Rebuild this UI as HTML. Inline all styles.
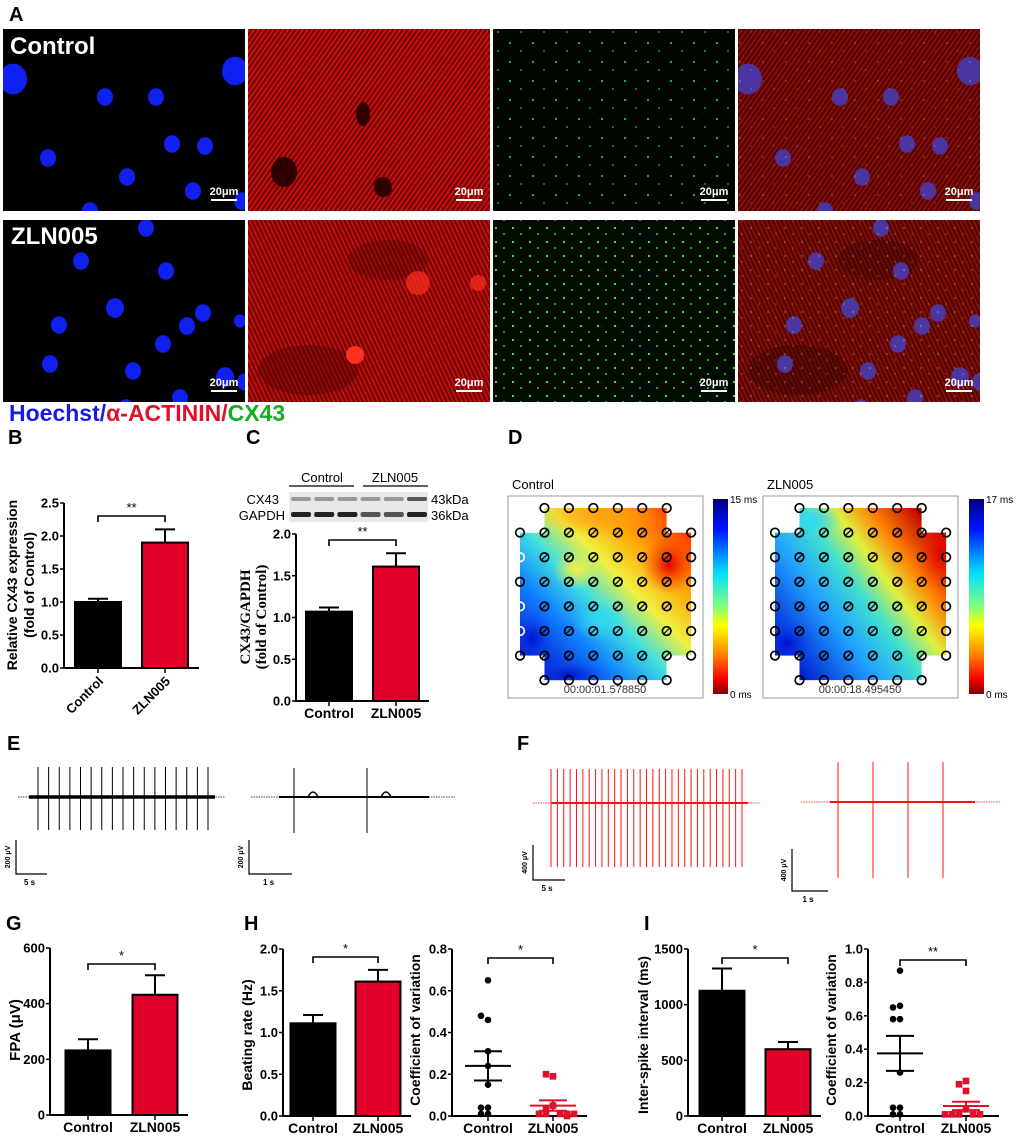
<!DOCTYPE html>
<html><head><meta charset="utf-8"><style>
html,body{margin:0;padding:0;background:#fff;}
svg{display:block;font-family:"Liberation Sans",Arial,sans-serif;}
</style></head><body>
<svg id="fig" width="1020" height="1137" viewBox="0 0 1020 1137" xmlns="http://www.w3.org/2000/svg">
<defs>
<pattern id="redTex" width="4" height="4" patternUnits="userSpaceOnUse" patternTransform="rotate(35)">
<rect width="4" height="4" fill="#5a0606"/><rect width="2" height="4" fill="#d81616"/></pattern>
<pattern id="redTex2" width="4" height="4" patternUnits="userSpaceOnUse" patternTransform="rotate(-25)">
<rect width="4" height="4" fill="#560606"/><rect width="2" height="4" fill="#d41414"/></pattern>
<pattern id="greenDots" width="23" height="19" patternUnits="userSpaceOnUse">
<rect width="23" height="19" fill="#010601"/><circle cx="4" cy="5" r="1" fill="#2fe05a"/><circle cx="15" cy="13" r="0.9" fill="#22c040"/></pattern>
<pattern id="greenDots2" width="17" height="14" patternUnits="userSpaceOnUse">
<rect width="17" height="14" fill="#020c02"/><circle cx="3" cy="4" r="1.1" fill="#3af060"/><circle cx="11" cy="10" r="1" fill="#2ad050"/></pattern>
<linearGradient id="cbar" x1="0" y1="0" x2="0" y2="1">
<stop offset="0" stop-color="#00007f"/><stop offset="0.15" stop-color="#0010ff"/><stop offset="0.38" stop-color="#00e0ff"/><stop offset="0.55" stop-color="#80ff80"/><stop offset="0.65" stop-color="#ffff00"/><stop offset="0.8" stop-color="#ff8000"/><stop offset="0.92" stop-color="#ff0000"/><stop offset="1" stop-color="#800000"/></linearGradient>
<linearGradient id="hm1" gradientUnits="userSpaceOnUse" x1="530" y1="680" x2="690" y2="520">
<stop offset="0" stop-color="#0000c0"/><stop offset="0.28" stop-color="#1080ff"/><stop offset="0.45" stop-color="#40e0e0"/><stop offset="0.6" stop-color="#f0f040"/><stop offset="0.78" stop-color="#ffa000"/><stop offset="1" stop-color="#ff2000"/></linearGradient>
<radialGradient id="hmRed"><stop offset="0" stop-color="#e00000"/><stop offset="1" stop-color="#ff4000" stop-opacity="0"/></radialGradient>
<radialGradient id="hmBlue"><stop offset="0" stop-color="#0010d0"/><stop offset="1" stop-color="#1060ff" stop-opacity="0"/></radialGradient>
<radialGradient id="hmYel"><stop offset="0" stop-color="#f8f040"/><stop offset="1" stop-color="#f8f040" stop-opacity="0"/></radialGradient>
<radialGradient id="hmOr"><stop offset="0" stop-color="#ffa010"/><stop offset="1" stop-color="#ffa010" stop-opacity="0"/></radialGradient>
<radialGradient id="hmCy"><stop offset="0" stop-color="#30d8f0"/><stop offset="1" stop-color="#30d8f0" stop-opacity="0"/></radialGradient>
<linearGradient id="hm2" gradientUnits="userSpaceOnUse" x1="790" y1="660" x2="945" y2="545">
<stop offset="0" stop-color="#0020d0"/><stop offset="0.3" stop-color="#20a0ff"/><stop offset="0.5" stop-color="#40e0d0"/><stop offset="0.65" stop-color="#e0f040"/><stop offset="0.8" stop-color="#ff8000"/><stop offset="1" stop-color="#c00000"/></linearGradient>
</defs>
<g id="root"></g>
</svg>
<script>
// ---------- chart data ----------
var cats = ["Control", "ZLN005"];
var bValues = [1.0, 1.9];
var bErrors = [0.05, 0.2];
var bTicks = [0, 0.5, 1.0, 1.5, 2.0, 2.5];
var cValues = [1.07, 1.61];
var cErrors = [0.05, 0.16];
var cTicks = [0, 0.5, 1.0, 1.5, 2.0];
var gValues = [232, 432];
var gErrors = [40, 70];
var gTicks = [0, 200, 400, 600];
var hValues = [1.11, 1.61];
var hErrors = [0.1, 0.14];
var hTicks = [0, 0.5, 1.0, 1.5, 2.0];
var hCvControl = [0.65, 0.46, 0.48, 0.31, 0.24, 0.15, 0.04, 0.04, 0.01, 0.01];
var hCvZln = [0.19, 0.2, 0.05, 0.03, 0.01, 0.01, 0.01, 0.01, 0.0, 0.01];
var hCvMean = [0.24, 0.05];
var hCvSem = [0.07, 0.025];
var hCvTicks = [0, 0.2, 0.4, 0.6, 0.8];
var iValues = [1125, 600];
var iErrors = [200, 65];
var iTicks = [0, 500, 1000, 1500];
var iCvControl = [0.87, 0.66, 0.65, 0.58, 0.58, 0.26, 0.05, 0.05, 0.01, 0.01];
var iCvZln = [0.21, 0.19, 0.15, 0.04, 0.02, 0.01, 0.01, 0.01, 0.01, 0.01];
var iCvMean = [0.375, 0.06];
var iCvSem = [0.105, 0.025];
var iCvTicks = [0, 0.2, 0.4, 0.6, 0.8, 1.0];
var eSpikeTimes1 = [0,1,2,3,4,5,6,7,8,9,10,11,12,13,14,15,16];
var eSpikeTimes2 = [0, 1];
var fSpikeTimes1 = [0,1,2,3,4,5,6,7,8,9,10,11,12,13,14,15,16,17,18,19,20,21,22,23,24,25,26,27,28,29,30];
var fSpikeTimes2 = [0, 1, 2, 3];

var NS = "http://www.w3.org/2000/svg";
var root = document.getElementById("root");
function el(tag, attrs, parent, txt) {
  var e = document.createElementNS(NS, tag);
  for (var k in attrs) e.setAttribute(k, attrs[k]);
  if (txt !== undefined) e.textContent = txt;
  (parent || root).appendChild(e);
  return e;
}
function grp(name, parent) {
  var g = el("g", {}, parent);
  
  
  return g;
}
function label(txt, x, y, size, parent) {
  var t = el("text", {x: x, y: y, "font-size": size, "font-weight": "bold"}, parent, txt);
  
  
  return t;
}

// ---------- Panel A ----------
var pA = grp("panel-a-micrographs");
label("A", 9, 21, 20, pA);
var cols = [3, 248, 493, 738], rows = [29, 220], W = 242, H = 182;
var nucleiA = [[10,50,14],[232,42,13],[102,68,8],[153,68,8],[169,115,8],[202,117,8],[45,129,8],[124,148,8],[190,162,8],[87,182,8],[239,172,8],[62,204,8]];
var nucleiB = [[143,8,8],[163,51,8],[78,41,8],[112,88,9],[56,105,8],[184,106,8],[200,93,8],[237,101,6],[160,124,8],[47,144,8],[130,151,8],[222,157,9],[123,188,8],[177,178,8],[242,162,8],[193,203,8]];
function nuclei(parent, ox, oy, list, col, op) {
  list.forEach(function(n){ el("ellipse",{cx:ox+n[0],cy:oy+n[1],rx:n[2],ry:n[2]*1.1,fill:col,opacity:op},parent); });
}
rows.forEach(function(ry, ri){
  cols.forEach(function(cx, ci){
    var g = grp("micrograph-" + (ri? "zln005":"control") + "-" + ["hoechst","actinin","cx43","merge"][ci], pA);
    var cp = el("clipPath",{id:"cp"+ri+ci},g); el("rect",{x:cx,y:ry,width:W,height:H},cp);
    var inner = el("g",{"clip-path":"url(#cp"+ri+ci+")"},g);
    var list = ri ? nucleiB : nucleiA;
    if (ci==0){ el("rect",{x:cx,y:ry,width:W,height:H,fill:"#000"},inner); nuclei(inner,cx,ry,list,"#1020f0",1); }
    if (ci==1||ci==3){ el("rect",{x:cx,y:ry,width:W,height:H,fill:"url(#"+(ri?"redTex2":"redTex")+")"},inner);
      el("rect",{x:cx,y:ry,width:W,height:H,fill:"#a00000",opacity:0.3},inner);
      if(ri){ el("ellipse",{cx:cx+60,cy:ry+150,rx:50,ry:25,fill:"#400000",opacity:0.35},inner); el("ellipse",{cx:cx+140,cy:ry+40,rx:40,ry:20,fill:"#400000",opacity:0.3},inner);} }
    if (ci==1){
      if(!ri){ el("ellipse",{cx:cx+36,cy:ry+143,rx:13,ry:15,fill:"#300000"},inner); el("ellipse",{cx:cx+115,cy:ry+85,rx:7,ry:12,fill:"#300000"},inner); el("ellipse",{cx:cx+135,cy:ry+158,rx:9,ry:10,fill:"#300000"},inner);}
      else { el("circle",{cx:cx+107,cy:ry+135,r:9,fill:"#ff3020"},inner); el("circle",{cx:cx+170,cy:ry+63,r:12,fill:"#ff3020",opacity:0.7},inner); el("circle",{cx:cx+230,cy:ry+63,r:8,fill:"#ff3020",opacity:0.7},inner);} }
    if (ci==2){ el("rect",{x:cx,y:ry,width:W,height:H,fill:"url(#"+(ri?"greenDots2":"greenDots")+")"},inner); }
    if (ci==3){ nuclei(inner,cx,ry,list,"#6a4cf0",0.95);
      el("rect",{x:cx,y:ry,width:W,height:H,fill:"url(#"+(ri?"greenDots2":"greenDots")+")",opacity:0.3},inner); }
    el("rect",{x:cx+W-34,y:ry+H-12,width:26,height:2,fill:"#fff"},g);
    var t = el("text",{x:cx+W-21,y:ry+H-16,"font-size":11,"font-weight":"bold",fill:"#fff","text-anchor":"middle"},g,"20μm");
     
  });
});
var tc = el("text",{x:10,y:54,"font-size":24,"font-weight":"bold",fill:"#fff"},pA,"Control");
 
var tz = el("text",{x:11,y:244,"font-size":24,"font-weight":"bold",fill:"#fff"},pA,"ZLN005");
 
var leg = el("text",{x:9,y:421,"font-size":23,"font-weight":"bold"},pA);
 
el("tspan",{fill:"#1a1ae6"},leg,"Hoechst/"); el("tspan",{fill:"#e0102a"},leg,"α-ACTININ/"); el("tspan",{fill:"#10b020"},leg,"CX43");

// ---------- generic bar chart ----------
function barChart(o) {
  var g = grp(o.name);
  var sy = function(v){ return o.y0 - (v / o.max) * (o.y0 - o.yTop); };
  var ax = el("line",{x1:o.ax,y1:o.yTop,x2:o.ax,y2:o.y0+1,stroke:"#000","stroke-width":2},g);
   
  var xa = el("line",{x1:o.ax-1,y1:o.y0,x2:o.xEnd,y2:o.y0,stroke:"#000","stroke-width":2},g);
   
  o.ticks.forEach(function(t){
    var y = sy(t);
    el("line",{x1:o.ax-4,y1:y,x2:o.ax,y2:y,stroke:"#000","stroke-width":1.5},g);
    var lab = el("text",{x:o.ax-5,y:y+4.5,"font-size":13,"font-weight":"bold","text-anchor":"end"},g,o.fmt(t));
     
  });
  o.centers.forEach(function(c, i){
    el("line",{x1:c,y1:o.y0,x2:c,y2:o.y0+5,stroke:"#000","stroke-width":1.5},g);
    var xl;
    if (o.rot) xl = el("text",{x:c+6,y:o.y0+14,"font-size":13,"font-weight":"bold","text-anchor":"end",transform:"rotate(-45 "+(c+6)+" "+(o.y0+14)+")"},g,cats[i]);
    else xl = el("text",{x:c,y:o.y0+17,"font-size":14,"font-weight":"bold","text-anchor":"middle"},g,cats[i]);
     
    if (o.values) {
      var hw = o.bw/2, top = sy(o.values[i]), et = sy(o.values[i]+o.errors[i]);
      el("line",{x1:c,y1:top,x2:c,y2:et,stroke:"#000","stroke-width":2},g);
      el("line",{x1:c-10,y1:et,x2:c+10,y2:et,stroke:"#000","stroke-width":2},g);
      var r = el("rect",{x:c-hw,y:top,width:o.bw,height:o.y0-top,fill:i?"#e0002a":"#000",stroke:"#000","stroke-width":2},g);
       
    }
  });
  var bx0 = o.centers[0], bx1 = o.centers[1];
  el("path",{d:"M"+bx0+" "+(o.br+6)+"V"+o.br+"H"+bx1+"V"+(o.br+6),fill:"none",stroke:"#000","stroke-width":1.6},g);
  var st = el("text",{x:(bx0+bx1)/2,y:o.br-4,"font-size":13,"text-anchor":"middle"},g,o.star);
   
  o.titles.forEach(function(tt){
    var t = el("text",{x:tt[0],y:tt[1],"font-size":tt[2]||14,"font-weight":"bold","text-anchor":"middle","font-family":tt[3]||"Liberation Sans, Arial, sans-serif",transform:"rotate(-90 "+tt[0]+" "+tt[1]+")"},g,tt[4]);
     
  });
  return {g:g, sy:sy};
}
function f1(v){ return v.toFixed(1); }
function f0(v){ return String(v); }

// B
label("B", 8, 444, 20);
barChart({name:"panel-b-cx43-chart",ax:64,y0:668,yTop:503,max:2.5,ticks:bTicks,fmt:f1,centers:[98,165],bw:46,xEnd:199,values:bValues,errors:bErrors,rot:true,br:516,star:"**",
  titles:[[17,585,14,null,"Relative CX43 expression"],[34,585,14,null,"(fold of Control)"]]});
// C
label("C", 246, 444, 20);
var blot = grp("western-blot");
el("text",{x:322,y:482,"font-size":13,"text-anchor":"middle"},blot,"Control");
el("text",{x:395,y:482,"font-size":13,"text-anchor":"middle"},blot,"ZLN005");
el("line",{x1:289,y1:486,x2:354,y2:486,stroke:"#000","stroke-width":1.2},blot);
el("line",{x1:363,y1:486,x2:428,y2:486,stroke:"#000","stroke-width":1.2},blot);
el("text",{x:279,y:504,"font-size":13,"text-anchor":"end"},blot,"CX43");
el("text",{x:285,y:520,"font-size":13,"text-anchor":"end"},blot,"GAPDH");
el("text",{x:431,y:504,"font-size":13},blot,"43kDa");
el("text",{x:431,y:520,"font-size":13},blot,"36kDa");
el("rect",{x:289,y:492,width:139,height:30,fill:"#e8e8e8"},blot);
[0,1,2,3,4,5].forEach(function(i){
  var x = 291 + i*23.2;
  el("rect",{x:x,y:497,width:20,height:4,rx:2,fill:i==5?"#555":"#999"},blot);
  el("rect",{x:x,y:512,width:20,height:5,rx:2,fill:i<3||i==5?"#222":"#555"},blot);
});
barChart({name:"panel-c-blot-chart",ax:296,y0:701,yTop:534,max:2.0,ticks:cTicks,fmt:f1,centers:[329,396],bw:46,xEnd:429,values:cValues,errors:cErrors,rot:false,br:540,star:"**",
  titles:[[250,617,15,"Liberation Serif, serif","CX43/GAPDH"],[266,617,15,"Liberation Serif, serif","(fold of Control)"]]});

// D heatmaps
label("D", 508, 444, 20);
function heatmap(name, ox, fill, extras, stamp, maxLabel, cbx, title) {
  var g = grp(name);
  el("text",{x:ox+4,y:489,"font-size":13},g,title);
  el("rect",{x:ox,y:496,width:195,height:202,fill:"#fff",stroke:"#999","stroke-width":1},g);
  var gx = function(i){ return ox+12+24.45*i; }, gy = function(j){ return 508+24.6*j; };
  var d = "M"+gx(1)+" "+gy(0)+"H"+gx(6)+"V"+gy(1)+"H"+gx(7)+"V"+gy(6)+"H"+gx(6)+"V"+gy(7)+"H"+gx(1)+"V"+gy(6)+"H"+gx(0)+"V"+gy(1)+"H"+gx(1)+"Z";
  var cp = el("clipPath",{id:"clip"+name},g); el("path",{d:d},cp);
  var ig = el("g",{"clip-path":"url(#clip"+name+")"},g);
  el("path",{d:d,fill:fill},ig);
  extras.forEach(function(e){ el("ellipse",{cx:gx(e[0]),cy:gy(e[1]),rx:e[2],ry:e[3],fill:"url(#"+e[4]+")"},ig); });
  for (var j=0;j<8;j++) for (var i=0;i<8;i++){
    if ((j==0||j==7)&&(i==0||i==7)) continue;
    var white = (i==0&&j>=2&&j<=5&&name.indexOf("control")>=0&&j!=3);
    el("circle",{cx:gx(i),cy:gy(j),r:4.3,fill:"none",stroke:white?"#fff":"#000","stroke-width":1.7},g);
    if (i>0&&i<7&&j>0&&j<7) el("line",{x1:gx(i)-3,y1:gy(j)+3,x2:gx(i)+3,y2:gy(j)-3,stroke:"#000","stroke-width":1.2},g);
  }
  el("text",{x:ox+97,y:693,"font-size":11,fill:"#333","text-anchor":"middle"},g,stamp);
  var cb = el("rect",{x:cbx,y:499,width:15,height:195,fill:"url(#cbar)"},g);
   
  el("text",{x:cbx+17,y:503,"font-size":10},g,maxLabel);
  el("text",{x:cbx+17,y:698,"font-size":10},g,"0 ms");
}
heatmap("heatmap-control",508,"url(#hm1)",[[3.5,0.3,70,22,"hmOr"],[6.1,2.3,28,30,"hmRed"],[2,6.8,45,18,"hmBlue"],[2.3,2.5,24,20,"hmYel"],[0.5,5.3,25,30,"hmBlue"],[3.3,4.6,28,20,"hmCy"]],"00:00:01.578850","15 ms",713,"Control");
heatmap("heatmap-zln005",763,"url(#hm2)",[[1.5,0.5,30,20,"hmCy"],[6.8,1.8,25,40,"hmRed"],[0.5,5.5,30,28,"hmBlue"]],"00:00:18.495450","17 ms",969,"ZLN005");

// ---------- traces ----------
function trace(name, col, x0, x1, dx0, dx1, base, times, sx0, sx1, up, down, thick, bumps) {
  var g = grp(name);
  el("line",{x1:dx0,y1:base,x2:dx1,y2:base,stroke:col,"stroke-width":0.7,"stroke-dasharray":"1.5 1"},g);
  el("line",{x1:x0,y1:base,x2:x1,y2:base,stroke:col,"stroke-width":thick},g);
  var last = times[times.length-1] || 1;
  times.forEach(function(t){
    var x = sx0 + (sx1 - sx0) * t / last;
    var s = el("line",{x1:x,y1:base-up,x2:x,y2:base+down,stroke:col,"stroke-width":1},g);
     
    if (bumps) el("path",{d:"M"+(x+14)+" "+base+"q5 -10 10 0",fill:"none",stroke:col,"stroke-width":1.5},g);
  });
}
function scaleBar(name, x, yTop, yBot, xEnd, vlab, hlab) {
  var g = grp(name);
  el("path",{d:"M"+x+" "+yTop+"V"+yBot+"H"+xEnd,fill:"none",stroke:"#000","stroke-width":1.2},g);
  el("text",{x:x-6,y:(yTop+yBot)/2,"font-size":7,"font-weight":"bold","text-anchor":"middle",transform:"rotate(-90 "+(x-6)+" "+((yTop+yBot)/2)+")"},g,vlab);
  el("text",{x:(x+xEnd)/2-2,y:yBot+11,"font-size":8,"font-weight":"bold","text-anchor":"middle"},g,hlab);
}
label("E", 7, 750, 20);
trace("trace-control-long","#000",29,215,18,225,797,eSpikeTimes1,38,208,30,33,3.5,false);
trace("trace-control-short","#000",279,429,251,455,797,eSpikeTimes2,294,367,29,36,2,true);
scaleBar("scalebar-e1",16,840,874,47,"200 μV","5 s");
scaleBar("scalebar-e2",249,840,874,292,"200 μV","1 s");
label("F", 517, 750, 20);
trace("trace-zln005-long","#ff1010",551,748,533,760,803,fSpikeTimes1,551,742,34,64,2,false);
trace("trace-zln005-short","#ff1010",830,975,801,1000,802,fSpikeTimes2,838,943,40,76,2,false);
scaleBar("scalebar-f1",533,845,880,565,"400 μV","5 s");
scaleBar("scalebar-f2",792,849,891,828,"400 μV","1 s");

// ---------- G, H, I ----------
label("G", 6, 930, 20);
barChart({name:"panel-g-fpa-chart",ax:50,y0:1115,yTop:948,max:600,ticks:gTicks,fmt:f0,centers:[88,155],bw:45,xEnd:188,values:gValues,errors:gErrors,rot:false,br:964,star:"*",
  titles:[[20,1030,15,null,"FPA (μV)"]]});
label("H", 244, 930, 20);
barChart({name:"panel-h-beating-chart",ax:283,y0:1116,yTop:949,max:2.0,ticks:hTicks,fmt:f1,centers:[313,378],bw:45,xEnd:411,values:hValues,errors:hErrors,rot:false,br:957,star:"*",
  titles:[[252,1035,14,null,"Beating rate (Hz)"]]});
label("I", 644, 930, 20);
barChart({name:"panel-i-isi-chart",ax:688,y0:1116,yTop:949,max:1500,ticks:iTicks,fmt:f0,centers:[722,788],bw:45,xEnd:821,values:iValues,errors:iErrors,rot:false,br:958,star:"*",
  titles:[[648,1035,14,null,"Inter-spike interval (ms)"]]});

function dotPlot(o) {
  var c = barChart({name:o.name,ax:o.ax,y0:1116,yTop:949,max:o.max,ticks:o.ticks,fmt:f1,centers:o.centers,bw:0,xEnd:o.xEnd,rot:false,br:o.br,star:o.star,
    titles:[[o.tx,1030,14,null,"Coefficient of variation"]]});
  [o.ctrl, o.zln].forEach(function(arr, gi){
    var cx = o.centers[gi], seen = [];
    arr.forEach(function(v){
      var same = seen.filter(function(s){ return Math.abs(s - v) < o.max*0.03; }).length;
      seen.push(v);
      var off = same === 0 ? 0 : (same % 2 ? -1 : 1) * Math.ceil(same/2) * 7;
      var y = c.sy(v);
      if (gi === 0) { var d = el("circle",{cx:cx+off,cy:y,r:3.3,fill:"#000"},c.g);   }
      else { var s = el("rect",{x:cx+off-3.3,y:y-3.3,width:6.6,height:6.6,fill:"#e0102a"},c.g);   }
    });
    var col = gi ? "#e0102a" : "#000";
    var m = c.sy(o.mean[gi]), hi = c.sy(o.mean[gi] + o.sem[gi]), lo = c.sy(o.mean[gi] - o.sem[gi]);
    el("line",{x1:cx-23,y1:m,x2:cx+23,y2:m,stroke:col,"stroke-width":2},c.g);
    el("line",{x1:cx-14,y1:hi,x2:cx+14,y2:hi,stroke:col,"stroke-width":2},c.g);
    el("line",{x1:cx-14,y1:lo,x2:cx+14,y2:lo,stroke:col,"stroke-width":2},c.g);
    el("line",{x1:cx,y1:hi,x2:cx,y2:lo,stroke:col,"stroke-width":2},c.g);
  });
}
dotPlot({name:"panel-h-cv-dotplot",ax:452,max:0.8,ticks:hCvTicks,centers:[488,553],xEnd:587,br:958,star:"*",tx:420,ctrl:hCvControl,zln:hCvZln,mean:hCvMean,sem:hCvSem});
dotPlot({name:"panel-i-cv-dotplot",ax:868,max:1.0,ticks:iCvTicks,centers:[900,966],xEnd:999,br:960,star:"**",tx:836,ctrl:iCvControl,zln:iCvZln,mean:iCvMean,sem:iCvSem});
</script>
</body></html>
